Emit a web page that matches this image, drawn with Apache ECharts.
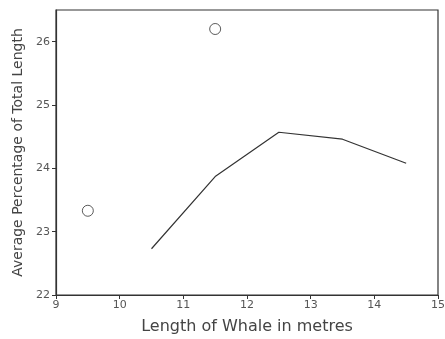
<!DOCTYPE html>
<html>
<head>
<meta charset="utf-8">
<script src="https://cdn.jsdelivr.net/npm/echarts@6/dist/echarts.min.js"></script>
<style>
  html, body { margin: 0; padding: 0; background: #fff; }
  #chart { width: 445px; height: 339px; }
</style>
</head>
<body>
<div id="chart"></div>
<script>
// Individual observations shown as open circles
const pointLengths = [9.5, 11.5];
const pointPercents = [23.33, 26.2];

// Averaged curve
const lineLengths = [10.5, 11.5, 12.5, 13.5, 14.5];
const linePercents = [22.73, 23.87, 24.57, 24.46, 24.08];

const xTicks = [9, 10, 11, 12, 13, 14, 15];
const yTicks = [22, 23, 24, 25, 26];

const ink = '#333';
const textInk = '#444';
const font = 'DejaVu Sans';

const chart = echarts.init(document.getElementById('chart'));
chart.setOption({
  animation: false,
  grid: {
    left: 56, right: 7, top: 10, bottom: 44,
    outerBoundsMode: 'none',
    show: true, borderColor: ink, borderWidth: 1.2, backgroundColor: 'transparent'
  },
  xAxis: {
    type: 'value',
    min: xTicks[0], max: xTicks[xTicks.length - 1], interval: 1,
    name: 'Length of Whale in metres',
    nameLocation: 'middle', nameGap: 24,
    nameTextStyle: { color: textInk, fontSize: 16, fontFamily: font },
    axisLine: { lineStyle: { color: ink, width: 1.2 } },
    axisTick: { length: 4, lineStyle: { color: ink } },
    axisLabel: { color: '#555', fontSize: 11, fontFamily: font, margin: 5 },
    splitLine: { show: false }
  },
  yAxis: {
    type: 'value',
    min: yTicks[0], max: 26.5, interval: 1,
    name: 'Average Percentage of Total Length',
    nameLocation: 'middle', nameGap: 30,
    nameTextStyle: { color: textInk, fontSize: 14, fontFamily: font },
    axisLine: { lineStyle: { color: ink, width: 1.2 } },
    axisTick: { length: 4, lineStyle: { color: ink } },
    axisLabel: { color: '#555', fontSize: 11, fontFamily: font, margin: 6, showMaxLabel: false },
    splitLine: { show: false }
  },
  series: [
    {
      type: 'scatter',
      data: pointLengths.map((x, i) => [x, pointPercents[i]]),
      symbol: 'circle',
      symbolSize: 11,
      itemStyle: { color: '#fff', borderColor: ink, borderWidth: 1 }
    },
    {
      type: 'line',
      data: lineLengths.map((x, i) => [x, linePercents[i]]),
      showSymbol: false,
      lineStyle: { color: ink, width: 1.2 }
    }
  ]
});
</script>
</body>
</html>
